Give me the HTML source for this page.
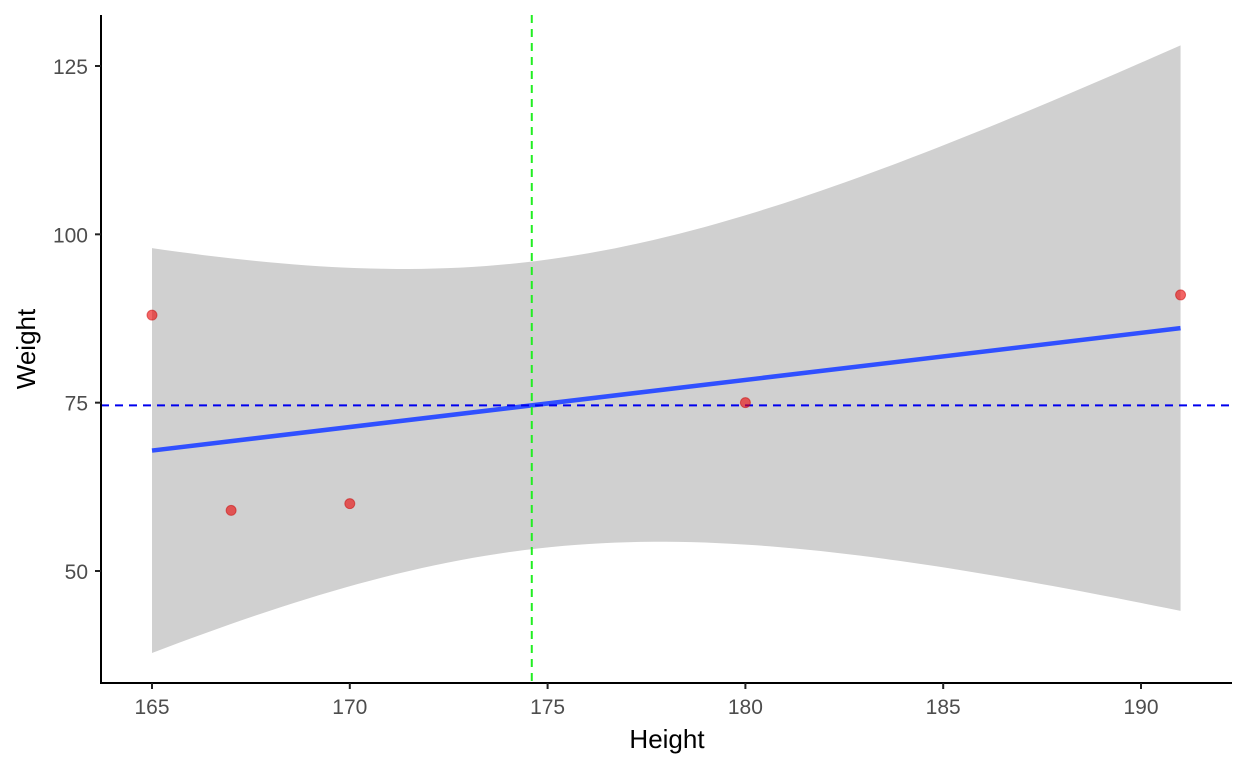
<!DOCTYPE html>
<html><head><meta charset="utf-8"><style>
body{margin:0;background:#fff;}
svg{display:block;font-family:"Liberation Sans",Arial,sans-serif;}
</style></head><body>
<svg id="chart" width="1248" height="768"></svg>
<script>
const heights=[165,167,170,180,191];
const weights=[88,59,60,75,91];
const xTicks=[165,170,175,180,185,190];
const yTicks=[50,75,100,125];
const NS="http://www.w3.org/2000/svg";
const svg=document.getElementById('chart');
const X=v=>152+(v-165)*(1141-152)/25;
const Y=v=>571-(v-50)*(571-66)/75;
const L=101,R=1232,T=15,B=683;
function mk(t,a,p){const e=document.createElementNS(NS,t);for(const k in a)e.setAttribute(k,a[k]);(p||svg).appendChild(e);return e;}
const n=heights.length;
const mx=heights.reduce((a,b)=>a+b)/n, my=weights.reduce((a,b)=>a+b)/n;
let sxx=0,sxy=0;heights.forEach((h,i)=>{sxx+=(h-mx)**2;sxy+=(h-mx)*(weights[i]-my);});
const slope=sxy/sxx, icp=my-slope*mx;
let sse=0;heights.forEach((h,i)=>{sse+=(weights[i]-icp-slope*h)**2;});
const s=Math.sqrt(sse/(n-2)), tq=3.182446;
const x0=Math.min(...heights),x1=Math.max(...heights);
let up=[],lo=[];
for(let k=0;k<=80;k++){const x=x0+(x1-x0)*k/80;const f=icp+slope*x;const se=s*Math.sqrt(1/n+(x-mx)**2/sxx);up.push([X(x),Y(f+tq*se)]);lo.push([X(x),Y(f-tq*se)]);}
const rib=mk('path',{d:'M'+up.map(p=>p.join(',')).join('L')+'L'+lo.reverse().map(p=>p.join(',')).join('L')+'Z',fill:'#d0d0d0'});

const fl=mk('line',{x1:X(x0),y1:Y(icp+slope*x0),x2:X(x1),y2:Y(icp+slope*x1),stroke:'#3050ff','stroke-width':4.5});

const hl=mk('line',{x1:L,x2:R,y1:Y(my),y2:Y(my),stroke:'#0000ee','stroke-width':2,'stroke-dasharray':'8,6'});

const vl=mk('line',{x1:X(mx),x2:X(mx),y1:T,y2:B,stroke:'#22ee22','stroke-width':2,'stroke-dasharray':'8,6'});

heights.forEach((h,i)=>{const c=mk('circle',{cx:X(h),cy:Y(weights[i]),r:5,fill:'rgba(235,0,0,0.6)',stroke:'rgba(200,0,0,0.5)','stroke-width':1});
});
const ax=mk('path',{d:`M${L},${T}V${B}H${R}`,fill:'none',stroke:'#000','stroke-width':2});

xTicks.forEach(t=>{mk('line',{x1:X(t),x2:X(t),y1:B,y2:B+6,stroke:'#222','stroke-width':2});
const e=mk('text',{x:X(t),y:714,'text-anchor':'middle','font-size':21,fill:'#4d4d4d'});e.textContent=t;
});
yTicks.forEach(t=>{mk('line',{x1:L-6,x2:L,y1:Y(t),y2:Y(t),stroke:'#222','stroke-width':2});
const e=mk('text',{x:88,y:Y(t)+8,'text-anchor':'end','font-size':21,fill:'#4d4d4d'});e.textContent=t;
});
const xt=mk('text',{x:667,y:748,'text-anchor':'middle','font-size':26,fill:'#000'});xt.textContent='Height';

const yt=mk('text',{x:35,y:349,'text-anchor':'middle','font-size':26,fill:'#000',transform:'rotate(-90 35 349)'});yt.textContent='Weight';

</script></body></html>
